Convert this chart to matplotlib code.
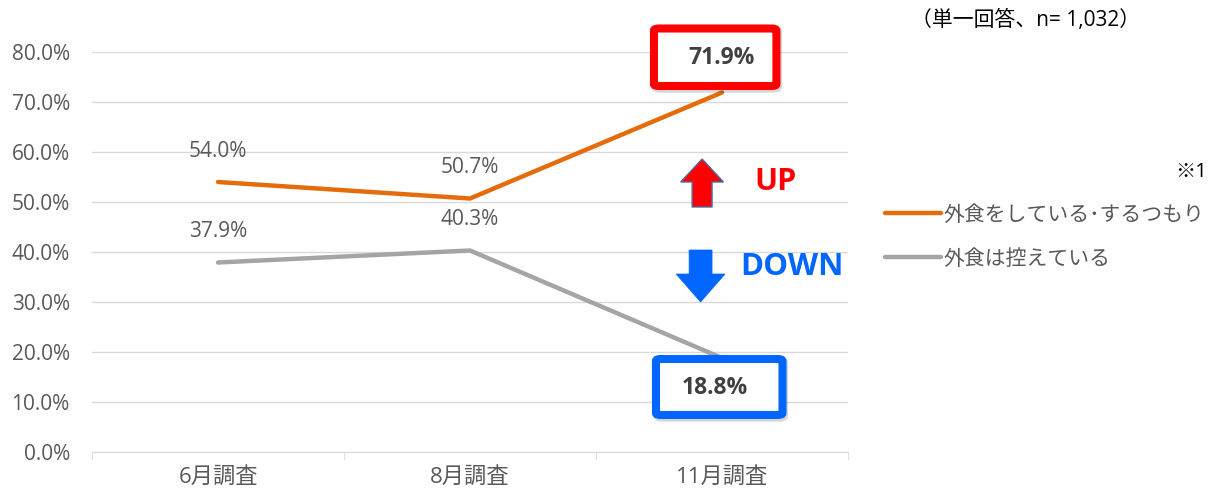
import matplotlib
matplotlib.use("Agg")
import matplotlib.pyplot as plt
from matplotlib.patches import FancyBboxPatch, FancyArrow
from matplotlib.ticker import FuncFormatter, FixedLocator

plt.rcParams['font.family'] = ['Open Sans', 'Noto Sans CJK JP', 'DejaVu Sans']

categories = ["6月調査", "8月調査", "11月調査"]
eat_out = [54.0, 50.7, 71.9]
refrain = [37.9, 40.3, 18.8]
series_labels = ["外食をしている･するつもり", "外食は控えている"]
note_text = "（単一回答、n= 1,032）"
footnote = "※1"

orange = "#E46C0A"
gray = "#A5A5A5"
txt = "#595959"

fig = plt.figure(figsize=(12.1, 4.93), dpi=100)
ax = fig.add_axes([92/1210, 1-452/493, 756/1210, 400/493])
x = list(range(len(categories)))
l1, = ax.plot(x, eat_out, color=orange, lw=3.2, solid_capstyle='round', zorder=3)
l2, = ax.plot(x, refrain, color=gray, lw=3.2, solid_capstyle='round', zorder=3)

ax.set_xlim(-0.5, 2.5)
ax.set_ylim(0, 80)
ax.yaxis.set_major_locator(FixedLocator([i*10 for i in range(9)]))
ax.yaxis.set_major_formatter(FuncFormatter(lambda v, p: f"{v:.1f}%"))
ax.grid(axis='y', color="#D9D9D9", lw=1)
ax.set_axisbelow(True)
for s in ['top', 'right', 'left']:
    ax.spines[s].set_visible(False)
ax.spines['bottom'].set_color("#D9D9D9")
ax.tick_params(axis='y', length=0, labelsize=15, labelcolor=txt, pad=16)
ax.set_xticks(x)
ax.set_xticklabels(categories)
ax.tick_params(axis='x', length=0, labelsize=16, labelcolor=txt, pad=11)
ax.set_xticks([-0.5, 0.5, 1.5, 2.5], minor=True)
ax.tick_params(axis='x', which='minor', length=6, color="#D9D9D9")

# data labels (normal)
for i in range(2):
    ax.annotate(f"{eat_out[i]:.1f}%", (x[i], eat_out[i]), xytext=(0, 22),
                textcoords='offset points', ha='center', va='center', fontsize=15, color=txt)
    ax.annotate(f"{refrain[i]:.1f}%", (x[i], refrain[i]), xytext=(0, 22),
                textcoords='offset points', ha='center', va='center', fontsize=15, color=txt)

# highlighted labels with boxes
ax.text(x[2], eat_out[2] + 6.9, f"{eat_out[2]:.1f}%", ha='center', va='center',
        fontsize=16.5, fontweight='bold', color="#404040", zorder=6)
ax.text(x[2] - 0.03, refrain[2] - 6.0, f"{refrain[2]:.1f}%", ha='center', va='center',
        fontsize=16.5, fontweight='bold', color="#404040", zorder=6)
for (x0, y0, w, h, c) in [(x[2]-0.27, 73.2, 0.486, 11.5, "#FF0000"),
                          (x[2]-0.262, 7.4, 0.502, 11.2, "#0066FF")]:
    shadow = FancyBboxPatch((x0+0.006, y0-0.5), w, h, boxstyle="round,pad=0,rounding_size=0.02",
                            fc='none', ec="#00000028", lw=6, clip_on=False, zorder=4,
                            mutation_aspect=20)
    ax.add_patch(shadow)
    box = FancyBboxPatch((x0, y0), w, h, boxstyle="round,pad=0,rounding_size=0.02",
                         fc='white', ec=c, lw=5.8, clip_on=False, zorder=5, mutation_aspect=20)
    ax.add_patch(box)

# arrows
ax.add_patch(FancyArrow(1.921, 49.0, 0, 9.6, width=0.079, head_width=0.17, head_length=4.6,
                        length_includes_head=True, fc="#FF0000", ec="#4A6FA5", lw=1, zorder=5))
ax.add_patch(FancyArrow(1.915, 40.4, 0, -10.4, width=0.091, head_width=0.194, head_length=5.6,
                        length_includes_head=True, fc="#0066FF", ec="#0066FF", lw=0.5, zorder=5))
ax.text(2.214, 54, "UP", ha='center', va='center', fontsize=22, fontweight='bold',
        color="#FF0000")
ax.text(2.276, 37.0, "DOWN", ha='center', va='center', fontsize=22.5, fontweight='bold',
        color="#0066FF", clip_on=False)

fig.text(1140/1210, 1-20/493, note_text, ha='right', va='center', fontsize=15, color="#000000")
fig.text(1207/1210, 1-172/493, footnote, ha='right', va='center', fontsize=14.5, color="#000000")

leg = fig.legend([l1, l2], series_labels, loc='upper left',
                 bbox_to_anchor=(866/1210, 1-186/493), frameon=False, fontsize=15,
                 handlelength=2.7, handletextpad=0.1, labelspacing=1.1, labelcolor=txt)

fig.savefig("out.png", dpi=100)
